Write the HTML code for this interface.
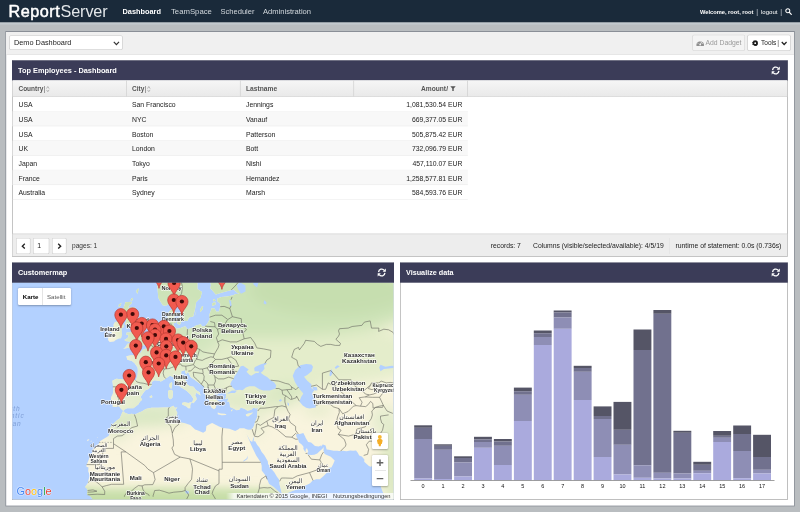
<!DOCTYPE html>
<html><head><meta charset="utf-8"><title>ReportServer</title>
<style>
html,body{margin:0;padding:0}
body{width:800px;height:512px;overflow:hidden;position:relative;background:#b9bdc0;font-family:"Liberation Sans",sans-serif}
.t{position:absolute;white-space:nowrap;display:block}
.b{position:absolute;display:block}
</style></head><body><div id="root" style="position:absolute;left:0;top:0;width:800px;height:512px;opacity:0.999">
<svg class="b" style="left:0px;top:0px" width="800" height="23"><rect x="0.00" y="0.00" width="800.00" height="22.50" fill="#1a2a3a" /></svg>
<span class="t" style="left:8.50px;top:2px;font-size:16.20px;line-height:18px;height:18px;color:#ffffff;letter-spacing:0.512px;-webkit-text-stroke:0.5px #fff;">Report</span>
<span class="t" style="left:60.60px;top:2px;font-size:16.20px;line-height:18px;height:18px;color:#e3e7ea;letter-spacing:-0.136px;">Server</span>
<span class="t" style="left:122.50px;top:7px;font-size:7.37px;line-height:9px;height:9px;color:#ffffff;font-weight:bold;">Dashboard</span>
<span class="t" style="left:171.00px;top:7px;font-size:7.76px;line-height:9px;height:9px;color:#d2d8dd;">TeamSpace</span>
<span class="t" style="left:220.50px;top:7px;font-size:7.55px;line-height:9px;height:9px;color:#d2d8dd;">Scheduler</span>
<span class="t" style="left:263.00px;top:7px;font-size:7.58px;line-height:9px;height:9px;color:#d2d8dd;">Administration</span>
<span class="t" style="left:700.00px;top:9px;font-size:5.71px;line-height:6px;height:6px;color:#ffffff;font-weight:bold;">Welcome, root, root</span>
<span class="t" style="left:756.30px;top:8px;font-size:7.00px;line-height:7px;height:7px;color:#c9d0d6;">|</span>
<span class="t" style="left:761.00px;top:9px;font-size:6.06px;line-height:6px;height:6px;color:#ffffff;">logout</span>
<span class="t" style="left:780.30px;top:8px;font-size:7.00px;line-height:7px;height:7px;color:#c9d0d6;">|</span>
<svg class="b" style="left:784.8px;top:8.2px" width="7" height="7" viewBox="0 0 8 8"><circle cx="3.2" cy="3.2" r="2.3" fill="none" stroke="#fff" stroke-width="1.15"/><path d="M4.9 4.9L7.2 7.2" stroke="#fff" stroke-width="1.35" stroke-linecap="round"/></svg>
<svg class="b" style="left:0px;top:22px" width="800" height="3"><rect x="0.00" y="0.50" width="800.00" height="2.00" fill="#c2c9ce" /></svg>
<svg class="b" style="left:5px;top:31px" width="790" height="476"><rect x="0.40" y="0.00" width="789.40" height="475.40" fill="#8a8f97" /></svg>
<svg class="b" style="left:6px;top:32px" width="788" height="474"><rect x="0.20" y="0.00" width="787.80" height="473.60" fill="#ffffff" /></svg>
<svg class="b" style="left:6px;top:32px" width="788" height="23"><rect x="0.20" y="0.00" width="787.80" height="22.60" fill="#f0f0f0" /></svg>
<svg class="b" style="left:6px;top:54px" width="788" height="1"><rect x="0.20" y="0.20" width="787.80" height="0.60" fill="#dddddd" /></svg>
<svg class="b" style="left:9px;top:35px" width="114" height="15"><rect x="0.20" y="0.40" width="113.40" height="14.40" fill="#c9c9c9" rx="1.5"/></svg>
<svg class="b" style="left:9px;top:36px" width="113" height="14"><rect x="0.80" y="0.00" width="112.20" height="13.20" fill="#ffffff" rx="1"/></svg>
<span class="t" style="left:14.00px;top:38px;font-size:7.34px;line-height:9px;height:9px;color:#222;">Demo Dashboard</span>
<svg class="b" style="left:112.8px;top:40.9px" width="7" height="5" viewBox="0 0 7 5"><path d="M0.8 0.9L3.4 3.6L6 0.9" fill="none" stroke="#333" stroke-width="1.2"/></svg>
<svg class="b" style="left:692px;top:34px" width="53" height="17"><rect x="0.40" y="0.70" width="52.60" height="16.10" fill="#d6d6d6" rx="1.5"/></svg>
<svg class="b" style="left:693px;top:35px" width="52" height="16"><rect x="0.00" y="0.30" width="51.40" height="14.90" fill="#f4f4f4" rx="1"/></svg>
<svg class="b" style="left:695.8px;top:39.8px" width="8.4" height="6.6" viewBox="0 0 16.8 13.2"><path d="M1.2 12.6A7.6 7.6 0 1 1 15.6 12.6Z" fill="#8f8f8f"/><circle cx="8.4" cy="9" r="1.8" fill="#f4f4f4"/><path d="M8.4 9L11.6 4" stroke="#f4f4f4" stroke-width="1.4"/><circle cx="4" cy="7" r="0.9" fill="#f4f4f4"/><circle cx="8.4" cy="3.6" r="0.9" fill="#f4f4f4"/><circle cx="12.8" cy="7" r="0.9" fill="#f4f4f4"/></svg>
<span class="t" style="left:705.50px;top:39px;font-size:6.82px;line-height:7px;height:7px;color:#999;">Add Dadget</span>
<svg class="b" style="left:747px;top:34px" width="44" height="17"><rect x="0.40" y="0.70" width="43.20" height="16.10" fill="#c8c8c8" rx="1.5"/></svg>
<svg class="b" style="left:748px;top:35px" width="42" height="16"><rect x="0.00" y="0.30" width="42.00" height="14.90" fill="#ffffff" rx="1"/></svg>
<svg class="b" style="left:751.6px;top:39.6px" width="6.4" height="6.4" viewBox="0 0 12.8 12.8"><circle cx="6.4" cy="6.4" r="3.6" fill="none" stroke="#1a1a1a" stroke-width="3.6"/><circle cx="6.4" cy="6.4" r="5.6" fill="none" stroke="#1a1a1a" stroke-width="1.4" stroke-dasharray="2.2 2.2"/></svg>
<span class="t" style="left:761.00px;top:39px;font-size:6.55px;line-height:7px;height:7px;color:#222;">Tools</span>
<span class="t" style="left:777.30px;top:39px;font-size:7.00px;line-height:7px;height:7px;color:#555;">|</span>
<svg class="b" style="left:780.7px;top:41.0px" width="6.5" height="5" viewBox="0 0 7 5"><path d="M0.8 0.9L3.4 3.6L6 0.9" fill="none" stroke="#222" stroke-width="1.3"/></svg>
<svg class="b" style="left:12px;top:60px" width="776" height="197"><rect x="0.00" y="0.30" width="775.80" height="196.30" fill="#9d9d9d" /></svg>
<svg class="b" style="left:12px;top:60px" width="776" height="196"><rect x="0.60" y="0.30" width="774.60" height="195.70" fill="#ffffff" /></svg>
<svg class="b" style="left:12px;top:60px" width="776" height="21"><rect x="0.00" y="0.30" width="775.80" height="20.20" fill="#3b3c58" /></svg>
<span class="t" style="left:18.00px;top:66px;font-size:7.36px;line-height:9px;height:9px;color:#ffffff;font-weight:bold;">Top Employees - Dashboard</span>
<svg class="b" style="left:771.1999999999999px;top:65.6px" width="9.5" height="9" viewBox="0 0 19 18"><path d="M3.2 8.2A6.4 6.4 0 0 1 14.6 4.6" fill="none" stroke="#fff" stroke-width="2.6"/><path d="M17.6 1.2V7.4H11.4Z" fill="#fff"/><path d="M15.8 9.8A6.4 6.4 0 0 1 4.4 13.4" fill="none" stroke="#fff" stroke-width="2.6"/><path d="M1.4 16.8V10.6H7.6Z" fill="#fff"/></svg>
<svg class="b" style="left:12px;top:80px" width="776" height="17"><defs><linearGradient id="tg" x1="0" y1="0" x2="0" y2="1"><stop offset="0" stop-color="#f6f6f6"/><stop offset="1" stop-color="#e9e9e9"/></linearGradient></defs><rect x="0.6" y="0.3" width="774.6" height="16.3" fill="url(#tg)"/><rect x="0.6" y="16.1" width="774.6" height="0.6" fill="#cfcfcf"/></svg>
<svg class="b" style="left:126px;top:80px" width="1" height="17"><rect x="0.10" y="0.30" width="0.80" height="16.30" fill="#d3d3d3" /></svg>
<svg class="b" style="left:239px;top:80px" width="2" height="17"><rect x="0.90" y="0.30" width="0.80" height="16.30" fill="#d3d3d3" /></svg>
<svg class="b" style="left:353px;top:80px" width="2" height="17"><rect x="0.30" y="0.30" width="0.80" height="16.30" fill="#d3d3d3" /></svg>
<svg class="b" style="left:467px;top:80px" width="1" height="17"><rect x="0.00" y="0.30" width="0.80" height="16.30" fill="#d3d3d3" /></svg>
<span class="t" style="left:18.50px;top:85px;font-size:6.47px;line-height:7px;height:7px;color:#555;font-weight:bold;">Country</span>
<span class="t" style="left:43.80px;top:85px;font-size:6.60px;line-height:7px;height:7px;color:#555;">|</span>
<span class="t" style="left:132.00px;top:85px;font-size:6.51px;line-height:7px;height:7px;color:#555;font-weight:bold;">City</span>
<span class="t" style="left:144.80px;top:85px;font-size:6.60px;line-height:7px;height:7px;color:#555;">|</span>
<svg class="b" style="left:46.3px;top:85.6px" width="3.6" height="6.2" viewBox="0 0 7 12"><path d="M1 5L3.5 1L6 5" fill="none" stroke="#888" stroke-width="1.1"/><path d="M1 7.5L3.5 11L6 7.5" fill="none" stroke="#888" stroke-width="1.1"/></svg>
<svg class="b" style="left:147.3px;top:85.6px" width="3.6" height="6.2" viewBox="0 0 7 12"><path d="M1 5L3.5 1L6 5" fill="none" stroke="#888" stroke-width="1.1"/><path d="M1 7.5L3.5 11L6 7.5" fill="none" stroke="#888" stroke-width="1.1"/></svg>
<span class="t" style="left:246.00px;top:85px;font-size:6.70px;line-height:7px;height:7px;color:#555;font-weight:bold;">Lastname</span>
<span class="t" style="left:421.00px;top:85px;font-size:6.62px;line-height:7px;height:7px;color:#555;font-weight:bold;">Amount</span>
<span class="t" style="left:446.30px;top:85px;font-size:6.80px;line-height:7px;height:7px;color:#555;font-weight:bold;">/</span>
<svg class="b" style="left:449.6px;top:86px" width="6" height="5.4" viewBox="0 0 11 10"><path d="M0.5 0.5H10.5L6.8 4.6V9.5H4.2V4.6Z" fill="#555"/></svg>
<svg class="b" style="left:12px;top:111px" width="456" height="1"><rect x="0.60" y="0.01" width="455.20" height="0.50" fill="#e8e8e8" /></svg>
<span class="t" style="left:18.50px;top:101px;font-size:6.84px;line-height:7px;height:7px;color:#222;">USA</span>
<span class="t" style="left:132.00px;top:101px;font-size:6.84px;line-height:7px;height:7px;color:#222;">San Francisco</span>
<span class="t" style="left:246.00px;top:101px;font-size:6.84px;line-height:7px;height:7px;color:#222;">Jennings</span>
<span class="t" style="left:406.22px;top:101px;font-size:6.84px;line-height:7px;height:7px;color:#222;">1,081,530.54 EUR</span>
<svg class="b" style="left:12px;top:111px" width="456" height="16"><rect x="0.60" y="0.51" width="455.20" height="14.71" fill="#f8f8f8" /></svg>
<svg class="b" style="left:12px;top:125px" width="456" height="2"><rect x="0.60" y="0.72" width="455.20" height="0.50" fill="#e8e8e8" /></svg>
<span class="t" style="left:18.50px;top:116px;font-size:6.84px;line-height:7px;height:7px;color:#222;">USA</span>
<span class="t" style="left:132.00px;top:116px;font-size:6.84px;line-height:7px;height:7px;color:#222;">NYC</span>
<span class="t" style="left:246.00px;top:116px;font-size:6.84px;line-height:7px;height:7px;color:#222;">Vanauf</span>
<span class="t" style="left:411.92px;top:116px;font-size:6.84px;line-height:7px;height:7px;color:#222;">669,377.05 EUR</span>
<svg class="b" style="left:12px;top:140px" width="456" height="1"><rect x="0.60" y="0.43" width="455.20" height="0.50" fill="#e8e8e8" /></svg>
<span class="t" style="left:18.50px;top:131px;font-size:6.84px;line-height:7px;height:7px;color:#222;">USA</span>
<span class="t" style="left:132.00px;top:131px;font-size:6.84px;line-height:7px;height:7px;color:#222;">Boston</span>
<span class="t" style="left:246.00px;top:131px;font-size:6.84px;line-height:7px;height:7px;color:#222;">Patterson</span>
<span class="t" style="left:411.92px;top:131px;font-size:6.84px;line-height:7px;height:7px;color:#222;">505,875.42 EUR</span>
<svg class="b" style="left:12px;top:140px" width="456" height="16"><rect x="0.60" y="0.93" width="455.20" height="14.71" fill="#f8f8f8" /></svg>
<svg class="b" style="left:12px;top:155px" width="456" height="1"><rect x="0.60" y="0.14" width="455.20" height="0.50" fill="#e8e8e8" /></svg>
<span class="t" style="left:18.50px;top:145px;font-size:6.84px;line-height:7px;height:7px;color:#222;">UK</span>
<span class="t" style="left:132.00px;top:145px;font-size:6.84px;line-height:7px;height:7px;color:#222;">London</span>
<span class="t" style="left:246.00px;top:145px;font-size:6.84px;line-height:7px;height:7px;color:#222;">Bott</span>
<span class="t" style="left:411.92px;top:145px;font-size:6.84px;line-height:7px;height:7px;color:#222;">732,096.79 EUR</span>
<svg class="b" style="left:12px;top:169px" width="456" height="2"><rect x="0.60" y="0.85" width="455.20" height="0.50" fill="#e8e8e8" /></svg>
<span class="t" style="left:18.50px;top:160px;font-size:6.84px;line-height:7px;height:7px;color:#222;">Japan</span>
<span class="t" style="left:132.00px;top:160px;font-size:6.84px;line-height:7px;height:7px;color:#222;">Tokyo</span>
<span class="t" style="left:246.00px;top:160px;font-size:6.84px;line-height:7px;height:7px;color:#222;">Nishi</span>
<span class="t" style="left:412.43px;top:160px;font-size:6.84px;line-height:7px;height:7px;color:#222;">457,110.07 EUR</span>
<svg class="b" style="left:12px;top:170px" width="456" height="16"><rect x="0.60" y="0.35" width="455.20" height="14.71" fill="#f8f8f8" /></svg>
<svg class="b" style="left:12px;top:184px" width="456" height="2"><rect x="0.60" y="0.56" width="455.20" height="0.50" fill="#e8e8e8" /></svg>
<span class="t" style="left:18.50px;top:175px;font-size:6.84px;line-height:7px;height:7px;color:#222;">France</span>
<span class="t" style="left:132.00px;top:175px;font-size:6.84px;line-height:7px;height:7px;color:#222;">Paris</span>
<span class="t" style="left:246.00px;top:175px;font-size:6.84px;line-height:7px;height:7px;color:#222;">Hernandez</span>
<span class="t" style="left:406.22px;top:175px;font-size:6.84px;line-height:7px;height:7px;color:#222;">1,258,577.81 EUR</span>
<svg class="b" style="left:12px;top:199px" width="456" height="1"><rect x="0.60" y="0.27" width="455.20" height="0.50" fill="#e8e8e8" /></svg>
<span class="t" style="left:18.50px;top:189px;font-size:6.84px;line-height:7px;height:7px;color:#222;">Australia</span>
<span class="t" style="left:132.00px;top:189px;font-size:6.84px;line-height:7px;height:7px;color:#222;">Sydney</span>
<span class="t" style="left:246.00px;top:189px;font-size:6.84px;line-height:7px;height:7px;color:#222;">Marsh</span>
<span class="t" style="left:411.92px;top:189px;font-size:6.84px;line-height:7px;height:7px;color:#222;">584,593.76 EUR</span>
<svg class="b" style="left:12px;top:233px" width="776" height="23"><rect x="0.60" y="0.80" width="774.60" height="22.20" fill="#ededed" /></svg>
<svg class="b" style="left:12px;top:233px" width="776" height="2"><rect x="0.60" y="0.60" width="774.60" height="0.60" fill="#cdcdcd" /></svg>
<svg class="b" style="left:16px;top:238px" width="15" height="16"><rect x="0.00" y="0.00" width="14.50" height="16.00" fill="#cfcfcf" rx="1.2"/></svg>
<svg class="b" style="left:16px;top:238px" width="14" height="16"><rect x="0.60" y="0.60" width="13.30" height="14.80" fill="#ffffff" rx="0.8"/></svg>
<svg class="b" style="left:33px;top:238px" width="17" height="16"><rect x="0.00" y="0.00" width="16.30" height="16.00" fill="#cfcfcf" rx="1.2"/></svg>
<svg class="b" style="left:33px;top:238px" width="16" height="16"><rect x="0.60" y="0.60" width="15.10" height="14.80" fill="#ffffff" rx="0.8"/></svg>
<svg class="b" style="left:52px;top:238px" width="15" height="16"><rect x="0.00" y="0.00" width="14.50" height="16.00" fill="#cfcfcf" rx="1.2"/></svg>
<svg class="b" style="left:52px;top:238px" width="14" height="16"><rect x="0.60" y="0.60" width="13.30" height="14.80" fill="#ffffff" rx="0.8"/></svg>
<svg class="b" style="left:21px;top:243px" width="5" height="6.4" viewBox="0 0 5 6.4"><path d="M3.8 0.8L1.3 3.2L3.8 5.6" fill="none" stroke="#222" stroke-width="1.3"/></svg>
<svg class="b" style="left:56.6px;top:243px" width="5" height="6.4" viewBox="0 0 5 6.4"><path d="M1.2 0.8L3.7 3.2L1.2 5.6" fill="none" stroke="#222" stroke-width="1.3"/></svg>
<span class="t" style="left:37.30px;top:242px;font-size:6.90px;line-height:7px;height:7px;color:#222;">1</span>
<span class="t" style="left:72.00px;top:242px;font-size:6.59px;line-height:7px;height:7px;color:#333;">pages: 1</span>
<span class="t" style="left:490.80px;top:242px;font-size:6.75px;line-height:7px;height:7px;color:#222;">records: 7</span>
<span class="t" style="left:533.00px;top:242px;font-size:6.81px;line-height:7px;height:7px;color:#222;">Columns (visible/selected/available): 4/5/19</span>
<span class="t" style="left:675.50px;top:242px;font-size:6.84px;line-height:7px;height:7px;color:#222;">runtime of statement: 0.0s (0.736s)</span>
<svg class="b" style="left:669px;top:238px" width="1" height="16"><rect x="0.30" y="0.00" width="0.50" height="16.00" fill="#dedede" /></svg>
<svg class="b" style="left:12px;top:262px" width="382" height="238"><rect x="0.00" y="0.50" width="382.00" height="237.30" fill="#9d9d9d" /></svg>
<svg class="b" style="left:12px;top:262px" width="382" height="238"><rect x="0.60" y="0.50" width="380.80" height="236.70" fill="#ffffff" /></svg>
<div class="b" style="left:12px;top:282px;width:382px;height:218px;clip-path:inset(0.5px 0.6px 0.8px 0.6px);background:#b3d1ff;overflow:hidden"><svg class="b" style="left:0;top:0" width="382" height="218" viewBox="0 0 382 218" font-family="Liberation Sans, sans-serif"><defs><filter id="bl" x="-30%" y="-30%" width="160%" height="160%"><feGaussianBlur stdDeviation="7"/></filter><filter id="bl2" x="-30%" y="-30%" width="160%" height="160%"><feGaussianBlur stdDeviation="3.5"/></filter><clipPath id="land"><path d="M145.7 -118.6L145.3 -1.8L145.3 2.9L145.7 8.8L146.3 15.8L147.6 18.3L150.8 23.2L153.7 23.8L157.0 22.0L160.5 18.3L163.1 15.8L163.7 12.0L164.7 16.4L166.0 22.0L167.9 25.6L169.6 30.3L170.2 33.8L171.2 38.9L175.4 38.9L177.0 35.5L181.2 34.4L183.1 26.8L184.1 20.2L188.6 15.8L189.9 10.1L185.4 6.9L185.4 0.2L187.3 -5.9L196.0 -14.4L201.2 -27.9L208.6 -28.6L210.9 -22.5L205.1 -15.1L198.9 -9.4L198.3 -1.8L198.9 3.6L198.3 6.2L200.6 8.8L203.8 12.4L210.2 10.4L217.7 8.5L221.6 7.5L225.1 10.8L227.4 11.7L223.8 12.0L221.2 13.3L215.1 14.6L209.3 14.9L205.4 16.4L205.4 19.2L208.3 21.7L208.2 25.0L207.0 29.5L204.4 29.7L202.5 26.5L199.6 26.2L198.5 29.7L197.3 32.7L197.7 37.2L195.4 41.5L193.1 44.2L189.9 44.5L188.9 42.3L184.1 43.4L180.9 45.6L175.7 47.2L173.1 44.2L168.6 45.9L164.7 46.7L162.4 44.5L161.5 42.3L160.8 38.4L162.4 35.0L164.7 32.7L162.8 29.7L163.7 25.6L157.3 29.2L155.7 32.7L155.7 37.8L157.3 41.2L157.6 45.0L158.2 47.2L156.0 49.4L152.4 48.6L152.1 50.7L148.9 49.9L144.8 52.0L144.0 55.2L142.4 57.8L140.8 60.4L138.9 61.4L135.6 62.4L134.3 66.4L130.1 67.9L128.9 70.9L125.3 68.9L123.4 68.9L124.3 74.1L119.8 73.1L114.3 74.3L115.3 77.7L119.8 79.1L122.4 81.0L125.6 85.6L125.9 88.4L125.6 92.9L124.0 98.2L119.8 98.2L111.7 97.6L104.3 96.7L100.4 98.7L100.9 103.0L101.4 107.7L100.8 112.0L99.1 115.3L99.0 118.2L101.1 119.4L100.6 124.8L104.0 125.0L106.9 124.2L109.2 127.0L111.4 129.0L112.7 127.4L115.3 126.2L121.4 126.2L126.3 122.6L127.9 119.8L130.1 117.7L128.5 114.9L131.8 110.3L133.4 108.2L136.6 106.9L139.8 103.0L139.5 100.0L142.4 98.2L146.9 98.7L148.9 99.6L152.4 97.4L157.0 94.3L158.2 93.8L162.1 95.6L163.4 100.0L165.7 102.6L169.2 105.6L173.1 107.7L175.4 109.4L178.6 112.4L181.5 116.9L180.0 120.2L181.5 121.2L184.7 117.3L184.1 114.9L183.1 113.2L184.4 110.7L188.6 113.6L187.6 110.3L184.1 108.2L181.5 104.8L177.9 104.3L175.0 102.2L173.1 97.4L170.2 95.6L169.2 93.4L169.2 89.3L173.4 87.9L173.4 90.7L174.4 92.0L176.0 89.7L178.6 95.1L182.5 97.8L188.0 101.7L192.2 104.8L192.5 107.3L192.2 110.7L194.1 114.0L196.4 116.9L197.7 119.8L198.0 122.6L199.6 125.8L202.2 127.2L203.8 125.8L204.1 123.4L203.8 121.4L207.0 122.2L207.0 119.8L203.8 117.3L203.5 115.7L202.5 112.8L203.5 110.3L205.4 112.8L206.4 109.9L208.3 109.0L213.5 109.4L214.1 112.4L213.8 114.9L215.7 115.7L216.1 118.2L214.8 119.4L217.0 119.4L217.7 121.4L218.0 125.0L220.9 126.2L224.5 128.2L227.4 127.8L228.7 125.4L232.9 127.0L235.4 128.8L239.3 127.8L241.3 125.8L244.2 126.6L245.8 125.4L245.5 129.0L245.1 131.0L245.1 135.3L244.2 137.2L242.9 140.6L241.9 144.0L240.6 146.3L238.7 147.8L236.1 147.8L233.8 147.1L232.2 146.3L227.7 146.3L226.1 147.4L223.2 148.9L217.4 146.7L210.9 145.9L207.0 144.4L200.2 141.0L198.9 141.4L194.4 144.0L193.8 148.9L191.2 150.8L186.0 148.5L183.1 147.4L178.3 142.9L172.1 141.0L167.3 140.3L163.4 138.0L162.1 137.2L164.4 134.1L165.4 131.0L163.7 127.4L165.4 125.4L162.8 125.8L161.5 123.8L157.6 125.4L154.7 125.4L151.8 125.4L146.0 125.8L139.5 125.8L133.7 127.0L129.8 129.4L127.6 130.2L123.0 132.5L119.8 131.8L116.6 132.2L112.4 130.6L112.1 129.4L110.4 129.8L109.5 132.2L107.5 136.8L105.0 138.3L99.8 143.3L97.8 146.3L98.2 150.4L96.6 154.1L87.8 159.2L86.2 162.4L82.7 166.0L78.1 174.4L74.6 182.7L74.3 184.5L76.5 185.5L76.2 189.2L77.8 193.6L76.2 199.0L76.2 200.6L73.0 204.9L75.2 206.9L75.6 208.9L75.2 212.5L79.1 214.8L90.7 236.4L269.4 236.4L269.0 215.1L269.4 212.2L267.4 210.5L261.6 204.9L257.1 201.9L255.1 197.3L253.9 193.9L249.7 188.5L249.7 183.8L248.7 180.3L244.2 173.4L240.9 166.7L238.7 162.1L237.7 159.2L234.6 152.2L236.7 155.9L238.0 158.5L240.1 160.1L240.9 157.4L242.4 153.7L241.6 159.2L243.2 159.2L245.1 162.8L247.4 165.6L249.7 169.9L252.2 173.1L255.8 179.3L256.1 182.1L259.7 187.2L262.3 190.2L264.8 194.6L267.1 197.6L267.4 201.9L268.1 204.6L269.4 209.5L270.0 211.7L274.9 211.2L279.7 209.2L285.5 207.2L288.1 205.6L294.2 203.3L298.1 201.3L300.7 198.6L304.2 197.3L307.8 197.3L311.3 194.3L314.6 190.9L315.9 188.2L316.8 185.8L319.4 185.5L321.0 182.4L322.7 178.6L318.8 174.8L312.6 172.0L311.5 168.8L311.7 165.1L310.2 167.1L308.1 168.8L305.2 171.6L302.3 172.7L299.4 173.1L296.2 172.7L295.2 171.3L296.2 169.9L296.0 168.8L294.9 166.0L293.6 167.8L293.7 170.6L292.3 168.5L291.3 166.7L291.6 164.9L290.0 162.8L287.1 160.6L286.2 157.7L284.9 155.5L284.2 154.1L284.5 152.2L286.2 151.9L287.8 151.9L291.3 151.1L293.3 154.8L293.7 155.9L296.2 159.9L299.1 160.6L303.0 163.9L306.8 164.4L311.0 162.4L313.6 163.5L314.6 167.4L316.8 167.8L321.7 168.8L325.2 168.8L328.5 169.2L330.7 168.8L334.6 169.2L338.2 168.5L341.1 168.8L344.0 168.5L345.6 170.6L347.2 173.4L349.8 174.4L352.4 177.6L352.2 179.7L356.9 184.1L358.8 184.8L362.7 182.7L363.7 179.7L364.3 183.4L364.6 190.6L366.3 197.3L367.9 202.3L371.1 210.8L373.4 214.8L375.0 236.4L436.4 236.4L436.4 -118.6ZM111.1 67.1L113.3 66.4L116.3 65.7L117.9 66.4L118.5 63.9L121.7 64.4L123.0 63.9L126.3 63.9L130.5 63.4L132.7 62.9L134.0 61.7L134.0 60.4L131.4 59.9L133.4 58.3L135.2 54.7L133.7 52.3L130.8 52.6L129.8 49.4L129.2 48.3L129.2 46.1L127.6 43.9L125.0 41.2L123.0 36.7L120.5 35.5L118.5 35.5L121.1 33.8L120.8 32.7L122.7 29.2L123.4 25.6L118.2 25.6L116.3 26.2L116.9 23.8L119.5 21.4L119.8 19.8L113.3 20.2L112.4 23.8L110.8 27.4L110.8 29.7L109.5 31.5L111.7 33.2L111.1 36.7L110.8 39.5L113.7 36.1L114.3 38.4L113.0 41.2L113.7 43.1L117.9 41.7L117.9 43.9L119.2 46.1L120.1 47.2L119.8 49.9L117.2 50.4L114.6 50.4L114.3 53.1L116.3 52.6L116.3 55.2L113.7 57.3L112.4 57.8L113.3 59.1L116.6 59.4L119.2 60.4L120.8 59.4L119.5 61.4L115.9 61.4L115.0 62.4L113.7 64.4L112.4 65.9ZM97.8 60.1L102.0 59.4L103.7 58.1L106.9 56.5L109.0 56.3L110.1 52.6L109.8 50.2L109.5 46.7L111.7 45.0L111.4 43.1L109.8 40.1L105.9 39.5L103.0 40.1L101.4 42.8L101.7 45.0L97.2 45.0L96.9 48.8L100.4 51.0L98.8 52.0L97.8 54.2L95.9 56.8L96.2 58.3ZM169.9 121.0L172.5 120.2L176.3 121.0L179.9 120.0L178.3 123.0L178.3 126.2L176.3 126.2L174.4 124.6L170.2 122.6ZM159.2 107.7L160.8 109.0L160.8 112.8L160.3 116.1L158.2 117.3L156.6 115.7L156.0 110.3L156.3 108.8ZM159.9 100.0L160.2 102.2L159.2 106.9L157.3 104.8L157.6 101.7ZM205.7 130.6L208.6 131.4L212.5 131.8L214.4 132.2L213.8 132.9L209.6 133.3L205.7 132.2ZM241.1 130.6L239.0 132.5L236.1 134.5L234.2 134.1L233.8 132.5L236.1 131.6ZM139.5 113.2L140.5 114.9L139.2 115.7L137.3 114.9ZM169.9 35.5L170.2 37.8L168.6 41.2L167.9 42.8L165.0 41.7L165.7 39.5L165.0 37.2L167.0 35.5ZM162.8 37.8L164.4 40.6L161.8 41.2L161.2 39.5ZM191.2 24.1L190.5 27.4L188.3 30.3L188.0 28.0L189.6 24.7ZM184.7 27.7L182.5 34.4L183.1 32.1ZM203.5 20.2L203.5 22.6L200.6 24.1L199.9 21.7L201.2 20.8ZM202.8 17.1L203.5 18.9L201.5 19.2L200.9 17.7ZM220.6 127.2L220.3 128.6L219.1 129.4L219.0 128.2ZM214.8 115.5L215.4 116.9L213.2 116.9L213.5 115.9ZM302.0 211.5L305.5 212.0L303.3 212.8L301.7 212.5ZM126.6 6.2L126.3 8.8L125.3 12.0L124.3 9.5L125.0 7.5ZM121.1 15.8L120.5 18.3L118.8 18.9L118.8 17.1ZM109.5 20.8L108.5 23.8L106.6 25.0L106.9 22.6ZM109.5 26.2L110.4 29.2L108.2 28.0ZM115.3 44.5L114.3 46.4L115.3 45.6ZM77.5 157.0L75.9 159.2L74.9 158.1ZM79.8 158.6L79.1 160.1L78.5 159.2ZM84.8 156.6L83.0 159.0L84.0 157.7ZM86.1 154.8L84.9 156.1L85.9 155.5ZM310.1 163.0L308.4 164.2L310.1 163.9Z"/></clipPath></defs><rect width="382" height="218" fill="#b3d1ff"/><g clip-path="url(#land)"><rect width="382" height="218" fill="#f9f4de"/><g filter="url(#bl)"><ellipse cx="288" cy="73" rx="130" ry="32" fill="#e4edcb" opacity="1"/><ellipse cx="153" cy="100" rx="62" ry="28" fill="#e2ecce" opacity="1"/><ellipse cx="243" cy="118" rx="42" ry="13" fill="#e0eac8" opacity="1"/><ellipse cx="248" cy="18" rx="170" ry="38" fill="#cde3b8" opacity="1"/><ellipse cx="158" cy="50" rx="52" ry="28" fill="#d2e5be" opacity="1"/><ellipse cx="318" cy="8" rx="80" ry="25" fill="#c6deaf" opacity="1"/><ellipse cx="278" cy="110" rx="22" ry="7" fill="#d5e6c0" opacity="1"/><ellipse cx="306" cy="128" rx="16" ry="5" fill="#e0eac8" opacity="1"/><ellipse cx="128" cy="136" rx="48" ry="8" fill="#d6e6c0" opacity="1"/><ellipse cx="106" cy="146" rx="11" ry="11" fill="#dde9c8" opacity="1"/><ellipse cx="168" cy="226" rx="160" ry="17" fill="#c9dfaa" opacity="1"/><ellipse cx="76" cy="221" rx="24" ry="14" fill="#c9dfaa" opacity="1"/><ellipse cx="250" cy="223" rx="30" ry="12" fill="#d6e5bb" opacity="1"/><ellipse cx="271" cy="206" rx="8" ry="8" fill="#e6edd2" opacity="1"/><ellipse cx="245" cy="143" rx="5" ry="12" fill="#e3ecce" opacity="1"/><ellipse cx="385" cy="183" rx="16" ry="45" fill="#dce8c2" opacity="1"/><ellipse cx="373" cy="138" rx="14" ry="14" fill="#e3ecce" opacity="1"/></g><g filter="url(#bl2)"><rect x="48" y="207" width="215" height="30" fill="#cfe3b3" opacity="0.9"/><rect x="48" y="213" width="200" height="30" fill="#c3dca3" opacity="0.9"/></g></g><path d="M223.5 108.4L227.4 107.7L230.6 108.2L233.8 105.6L237.4 104.3L242.6 104.3L247.4 107.3L251.3 108.6L257.7 108.6L263.5 106.5L264.2 103.5L262.3 100.4L258.7 98.2L255.1 95.1L251.6 92.9L248.7 90.7L250.6 89.3L252.6 86.6L251.9 83.8L255.1 81.4L253.2 81.0L248.4 82.4L243.5 84.7L242.2 86.1L242.6 89.3L247.4 89.5L246.4 91.1L243.8 91.1L241.3 92.5L239.3 93.8L237.7 92.9L234.5 89.7L236.7 87.5L234.5 86.1L231.2 83.8L228.7 84.2L227.4 86.6L225.4 90.2L222.2 94.7L221.9 96.5L219.6 99.1L218.3 102.2L219.9 104.8L222.5 107.3ZM223.2 108.6L224.5 109.6L222.8 111.1L219.0 111.1L215.4 111.7L215.7 110.9L217.7 109.9L219.9 108.6ZM294.2 81.9L288.4 83.3L283.2 87.9L280.7 93.8L282.9 100.0L285.5 104.3L288.1 107.7L291.3 111.5L289.1 114.9L287.4 119.4L290.7 123.4L294.2 125.8L297.5 126.6L303.9 125.4L303.6 123.0L303.6 117.3L301.7 114.9L300.4 112.8L300.7 110.3L302.3 108.6L299.4 106.0L299.4 102.2L295.5 99.1L292.0 94.7L295.2 92.9L299.7 89.3L301.0 84.7L299.4 82.4ZM300.7 104.5L304.9 105.2L305.5 108.2L303.0 108.6L300.7 106.9ZM325.2 83.3L327.8 84.2L323.9 87.0L322.7 85.6ZM319.7 87.0L320.7 91.1L318.8 94.3L317.5 93.8L317.8 90.2ZM368.5 82.8L373.4 84.7L379.8 83.8L384.7 84.2L381.4 86.1L371.8 87.0L368.5 89.3L367.2 85.6ZM227.7 0.2L233.5 3.6L233.5 9.5L229.0 11.7L226.1 7.5L224.8 3.6ZM242.6 -7.3L246.7 -0.4L245.1 5.6L241.3 2.3ZM216.7 17.7L219.0 18.9L219.6 23.8L218.3 24.7L217.4 20.8ZM252.2 18.3L254.5 20.2L254.2 22.6L251.6 21.4ZM268.7 117.1L270.0 118.6L268.1 119.8L266.8 118.6ZM275.5 120.2L277.1 121.8L276.8 124.2L275.5 122.6ZM173.8 208.2L177.0 209.5L176.7 211.8L174.4 211.5L173.1 209.9ZM235.8 173.4L235.4 176.9L231.2 179.7L231.6 178.6L234.5 176.5ZM172.8 15.8L174.7 18.3L170.5 21.4L169.9 18.9ZM177.3 19.5L176.3 22.6L175.4 25.0L176.3 21.4Z" fill="#b3d1ff"/></svg><svg class="b" style="left:0;top:0" width="382" height="218" viewBox="12 282 382 218" font-family="Liberation Sans, DejaVu Sans, sans-serif"><g transform="translate(12 282)"><path d="M100.8 104.8L103.0 104.8L108.2 105.2L107.2 108.6L106.9 112.8L105.3 114.0L106.9 116.9L106.6 120.2L105.6 124.2M123.7 98.5L125.0 100.0L128.5 100.9L131.8 101.3L135.0 102.2L139.7 102.4M153.7 96.5L152.1 94.7L151.1 91.1L152.1 87.0L149.2 84.7L151.1 81.9L153.9 79.3L154.7 74.3L156.0 72.4L151.5 71.4L149.8 69.9L148.2 69.9L145.0 67.4L142.7 65.9L139.2 63.4L137.7 61.9M140.5 60.6L143.4 60.4L146.3 61.2L147.9 63.7L148.9 63.7L148.9 58.3L152.1 56.3L152.8 50.7M148.9 63.7L149.8 65.9L149.8 69.9M157.4 41.7L159.9 42.3M175.5 47.2L175.2 53.1L177.0 56.8L177.9 62.4L168.9 65.9L172.8 72.4L174.1 74.3L171.5 76.2L171.5 79.1L165.0 79.6L160.5 79.3L157.3 79.1L153.9 79.3M152.1 87.0L157.0 86.6L159.5 85.6L163.1 84.2L163.3 82.6L160.3 81.4L160.5 79.3M163.3 82.6L168.6 81.9L169.9 83.8L173.8 84.2L177.9 83.5L181.5 82.6L183.1 78.6L184.7 77.2L184.1 73.8L177.9 73.3L174.1 74.3M173.8 84.2L174.1 88.4M181.5 82.6L183.1 84.7L187.6 87.0L190.5 87.0L195.1 85.9M183.1 84.7L178.9 88.8L176.3 89.1M190.5 87.0L191.2 91.1L190.9 91.6L181.2 90.2L181.8 94.7L185.4 97.8L188.9 101.7L189.3 102.2M190.9 91.6L192.2 94.3L191.8 97.8L189.3 102.2L192.2 105.0M191.8 97.8L195.1 100.9L196.0 103.0L196.0 104.8L196.4 109.0L194.1 114.0M196.0 103.0L201.9 103.0M196.0 104.8L197.3 109.0L200.6 108.2L203.6 107.1M177.9 62.4L182.1 65.4L187.6 67.4L190.9 69.9L195.7 70.9L202.5 71.9L206.1 65.9L207.0 62.9L205.7 59.9L204.4 55.7L206.7 52.0L205.4 47.2L203.1 44.8L193.1 44.2M187.6 67.4L186.0 72.8L184.7 77.2L190.2 78.4L193.5 76.7L198.9 74.8L201.2 75.3M203.1 44.8L202.5 40.6L198.3 39.5M205.4 47.2L212.2 45.0L213.5 41.2L215.4 37.8L220.4 34.7M197.5 35.2L203.5 33.2L209.9 33.2L215.4 37.2M208.2 24.7L212.2 24.4L217.8 26.5L220.4 34.7M217.8 26.5L219.0 23.8M219.0 17.7L220.1 14.9M220.4 34.7L229.3 36.7L229.6 42.3L234.5 47.8L230.9 51.0L232.2 56.8L224.8 59.9L218.3 59.9L210.2 57.8L205.7 59.9M232.2 56.8L238.7 55.5L242.6 60.9L244.8 65.9L251.6 66.9L259.0 68.4L258.4 75.7L254.8 78.1L252.9 81.4M202.5 71.9L201.2 75.3L203.5 77.4L209.9 77.4L215.4 76.0L219.0 74.8L223.8 78.1L226.7 84.2L223.0 84.7L220.6 89.1L225.3 89.7M215.4 76.0L218.6 80.5L220.6 84.2L220.6 89.1M203.5 77.4L198.9 82.4L195.1 85.9L198.6 91.1L202.5 93.4L202.8 94.7L206.4 96.9L211.9 96.9L216.7 95.1L221.7 96.7M202.8 94.7L203.5 99.1L201.9 103.0L203.6 107.1L208.6 106.9L211.2 107.5L214.6 105.6L217.4 104.3L219.9 104.3M214.6 105.6L213.6 109.6M166.0 17.7L169.6 11.4L170.5 4.9L168.9 -1.8L168.6 -12.3M219.3 7.9L224.1 2.9L230.6 -5.2M245.8 129.0L248.0 126.2L252.2 126.2L258.7 125.4L263.5 124.6L266.3 124.6L270.0 123.8L274.2 125.0L272.9 119.8L272.9 115.3L274.2 114.0L270.7 112.4L270.0 108.2L266.8 106.5L263.7 106.5M258.7 98.2L266.8 99.1L273.2 101.3L277.1 102.2L279.4 104.8L283.9 107.7L286.5 105.0M279.4 104.8L280.0 107.3L274.9 107.7L270.0 108.2M274.9 107.7L277.8 112.0L279.7 114.9L279.7 117.3L284.2 115.7L284.5 114.0L287.4 119.2M274.2 114.0L278.4 117.3L279.7 117.3M266.3 124.6L262.9 127.4L261.9 135.3L254.8 139.1L248.4 143.3L245.1 141.8M254.8 139.1L256.1 143.7L249.0 146.3L252.2 150.0L250.6 151.9L246.1 154.8L242.4 154.3M244.5 141.8L244.2 146.3L242.6 153.7M240.1 147.1L242.2 153.7M242.9 140.3L245.1 139.5L247.1 134.3L245.8 134.3M256.1 143.7L260.0 144.8L265.5 147.8L273.9 154.8L279.7 155.2L283.6 151.5L284.5 152.1M279.7 155.2L283.6 157.2L285.8 157.2M274.2 125.0L276.1 129.4L278.1 132.5L276.5 136.8L278.4 140.6L283.6 144.4L283.6 148.2L286.2 151.9M267.7 199.3L269.4 196.0L273.2 196.0L280.7 196.3L285.2 193.9L297.5 190.6L307.1 187.2L309.2 180.3L307.8 177.9L299.4 177.2L296.2 172.9M297.5 190.6L301.0 198.5M307.8 177.9L309.7 172.7L311.5 170.1M293.6 171.5L295.4 171.3M303.6 123.6L311.3 120.6L318.5 122.6L321.7 125.0L327.0 126.6L327.3 130.6L325.6 134.9L324.9 138.0L326.0 146.3L329.1 148.2L326.2 152.4L332.3 157.4L334.0 162.1L333.5 164.2L328.5 169.2M326.2 152.4L336.5 154.1L343.6 152.2L344.9 147.1L353.3 144.8L356.6 140.3L359.2 136.8L360.4 132.9L359.8 129.0L363.7 125.4L370.5 125.4M327.0 126.6L330.7 131.8L336.2 129.4L341.4 124.2L344.3 123.6L348.5 124.2L353.7 124.6L356.2 122.6L358.5 119.4L360.8 121.4L361.1 126.2L367.2 124.2L371.4 123.4M344.3 123.6L336.9 117.3L335.3 115.3L326.5 107.7L323.6 107.3L323.3 103.5L318.5 102.2L316.2 100.9L313.6 107.3L310.4 107.3L304.6 103.0L299.1 104.3M310.4 107.3L310.4 91.1L318.8 88.6L326.9 97.8L339.1 97.8L343.0 104.3L349.1 107.7L351.1 109.4L358.5 103.0L359.5 100.9L366.9 100.9L369.2 99.1L374.3 100.9L378.9 100.4L388.5 103.0M358.7 103.2L356.2 106.5L360.1 107.7L363.0 106.5L365.3 110.3L361.7 112.0L357.2 113.0L353.3 114.9L347.2 115.7L350.1 120.2L348.5 124.2M351.1 109.4L353.3 112.0L357.2 112.8M353.3 114.9L360.4 115.3L367.6 115.3L371.4 123.4M367.6 115.3L371.1 110.7L377.9 108.6L388.5 104.3M370.5 125.4L371.4 123.4L375.0 129.0L380.8 131.4M351.7 173.4L355.6 172.3L356.6 167.4L354.3 162.8L357.2 159.2L361.7 159.2L365.3 155.5L368.2 151.9L370.5 148.2L371.8 142.5L369.8 141.0L368.5 136.8L368.5 134.1L376.6 132.9M288.4 85.6L286.2 83.8L284.9 78.1L279.7 75.3L281.0 70.9L282.3 67.4L286.5 65.4L287.4 67.9L292.3 61.4L293.6 58.3L302.3 59.4L305.5 62.4L308.8 64.4L314.3 62.4L318.8 62.4L323.3 63.4L327.8 63.4L328.5 61.4L323.9 57.3L326.5 54.2L327.5 52.0L326.5 48.8L327.5 46.7L336.2 46.1L340.1 44.5L349.8 43.4L352.4 40.1L358.2 38.9L359.5 46.1L366.9 46.1L366.6 49.4L371.8 47.2L376.6 47.8L381.1 50.4L388.2 63.4M122.4 132.5L124.0 136.8L125.6 144.0L119.8 145.6L115.3 149.7L110.1 153.7L105.3 154.1L101.5 156.6L101.5 161.7L113.9 169.9L132.7 183.4L136.0 187.2L141.5 190.6L168.2 175.1M101.5 161.7L101.5 166.4L90.7 166.4L90.7 175.3L87.5 176.9L87.5 182.6L74.6 182.6M113.9 169.9L109.2 169.9L111.7 202.3L99.5 202.3L94.3 203.6L90.1 204.8L87.8 202.6L84.6 200.0L81.4 198.6L77.8 199.0L76.2 200.5M90.1 204.8L92.7 209.2L92.7 212.5M75.6 208.5L81.0 207.9L84.9 209.2L81.0 209.9L75.6 210.2M92.7 212.5L85.2 212.2L75.6 212.8M210.7 145.9L209.9 154.8L210.2 180.3L248.7 180.3M210.2 180.3L210.2 187.2L207.0 187.2L207.0 188.9L177.9 176.9L168.2 175.1L162.6 172.3L159.9 166.0L161.5 163.9L161.3 158.1L160.3 152.2L160.3 151.0M160.3 151.0L162.8 145.6L166.6 142.5L166.8 140.0M160.3 151.0L158.6 144.0L154.4 140.3L154.0 136.0L156.3 134.1L156.3 127.0L157.4 125.2M177.9 176.9L179.9 183.8L180.5 187.2L179.6 197.3L176.0 201.6L173.1 205.6L173.1 208.5L169.9 209.5L161.8 210.2L157.0 211.2L152.1 209.5L147.3 208.2L142.7 208.5L141.1 213.8L141.1 214.8M207.0 188.9L207.0 201.6L203.5 203.9L200.9 208.9L200.2 211.5L203.5 217.0M141.5 190.6L143.1 197.6L140.8 202.6L132.7 202.8L130.1 203.9L130.8 207.2L132.7 210.5L136.6 212.5L137.3 214.1M130.1 203.9L126.3 203.6L122.7 206.2L118.5 209.9L115.6 209.5L112.4 213.8L112.4 214.8M173.1 208.5L175.0 210.2L176.7 213.1L174.7 217.0M255.1 197.3L253.9 193.9L249.0 197.3L247.4 203.6L247.4 206.2L245.8 211.5L242.6 217.0M247.4 206.2L251.9 205.6L255.5 205.9L258.7 205.6L262.6 208.9L266.5 211.5L268.7 212.2M266.5 211.5L264.5 217.0" fill="none" stroke="#66665f" stroke-width="0.7" stroke-linejoin="round" opacity="0.85"/><path d="M86.9 160.4L101.5 160.4" fill="none" stroke="#8a8a80" stroke-width="0.6" stroke-dasharray="1.6 1.2"/></g><text x="20.6" y="410.7" text-anchor="end" font-size="6.6" font-style="italic" letter-spacing="0.9" fill="#7d9dd6">North</text><text x="24.6" y="418.2" text-anchor="end" font-size="6.6" font-style="italic" letter-spacing="0.9" fill="#7d9dd6">Atlantic</text><text x="21.6" y="425.7" text-anchor="end" font-size="6.6" font-style="italic" letter-spacing="0.9" fill="#7d9dd6">Ocean</text><text x="110" y="331.4" text-anchor="middle" font-size="5.9" fill="#2e2e2e" stroke="#ffffff" stroke-width="1.4" stroke-opacity="0.8" stroke-linejoin="round" paint-order="stroke" font-weight="bold" >Ireland</text><text x="110" y="337.1" text-anchor="middle" font-size="5.9" fill="#2e2e2e" stroke="#ffffff" stroke-width="1.4" stroke-opacity="0.8" stroke-linejoin="round" paint-order="stroke" font-weight="bold" >Éire</text><text x="202" y="332.2" text-anchor="middle" font-size="6.1" fill="#2e2e2e" stroke="#ffffff" stroke-width="1.4" stroke-opacity="0.8" stroke-linejoin="round" paint-order="stroke" font-weight="bold" >Polska</text><text x="202" y="338.2" text-anchor="middle" font-size="6.1" fill="#2e2e2e" stroke="#ffffff" stroke-width="1.4" stroke-opacity="0.8" stroke-linejoin="round" paint-order="stroke" font-weight="bold" >Poland</text><text x="232.5" y="327.2" text-anchor="middle" font-size="6.1" fill="#2e2e2e" stroke="#ffffff" stroke-width="1.4" stroke-opacity="0.8" stroke-linejoin="round" paint-order="stroke" font-weight="bold" >Беларусь</text><text x="232.5" y="333.0" text-anchor="middle" font-size="6.1" fill="#2e2e2e" stroke="#ffffff" stroke-width="1.4" stroke-opacity="0.8" stroke-linejoin="round" paint-order="stroke" font-weight="bold" >Belarus</text><text x="242.5" y="349.2" text-anchor="middle" font-size="6.1" fill="#2e2e2e" stroke="#ffffff" stroke-width="1.4" stroke-opacity="0.8" stroke-linejoin="round" paint-order="stroke" font-weight="bold" >Україна</text><text x="242.5" y="355.2" text-anchor="middle" font-size="6.1" fill="#2e2e2e" stroke="#ffffff" stroke-width="1.4" stroke-opacity="0.8" stroke-linejoin="round" paint-order="stroke" font-weight="bold" >Ukraine</text><text x="222" y="368.0" text-anchor="middle" font-size="6.1" fill="#2e2e2e" stroke="#ffffff" stroke-width="1.4" stroke-opacity="0.8" stroke-linejoin="round" paint-order="stroke" font-weight="bold" >România</text><text x="222" y="373.7" text-anchor="middle" font-size="6.1" fill="#2e2e2e" stroke="#ffffff" stroke-width="1.4" stroke-opacity="0.8" stroke-linejoin="round" paint-order="stroke" font-weight="bold" >Romania</text><text x="214.5" y="393.0" text-anchor="middle" font-size="6.1" fill="#2e2e2e" stroke="#ffffff" stroke-width="1.4" stroke-opacity="0.8" stroke-linejoin="round" paint-order="stroke" font-weight="bold" >Ελλάδα</text><text x="214.5" y="399.0" text-anchor="middle" font-size="6.1" fill="#2e2e2e" stroke="#ffffff" stroke-width="1.4" stroke-opacity="0.8" stroke-linejoin="round" paint-order="stroke" font-weight="bold" >Hellas</text><text x="214.5" y="404.7" text-anchor="middle" font-size="6.1" fill="#2e2e2e" stroke="#ffffff" stroke-width="1.4" stroke-opacity="0.8" stroke-linejoin="round" paint-order="stroke" font-weight="bold" >Greece</text><text x="255.5" y="398.0" text-anchor="middle" font-size="6.1" fill="#2e2e2e" stroke="#ffffff" stroke-width="1.4" stroke-opacity="0.8" stroke-linejoin="round" paint-order="stroke" font-weight="bold" >Türkiye</text><text x="255.5" y="404.2" text-anchor="middle" font-size="6.1" fill="#2e2e2e" stroke="#ffffff" stroke-width="1.4" stroke-opacity="0.8" stroke-linejoin="round" paint-order="stroke" font-weight="bold" >Turkey</text><text x="359.3" y="356.5" text-anchor="middle" font-size="6.2" fill="#2e2e2e" stroke="#ffffff" stroke-width="1.4" stroke-opacity="0.8" stroke-linejoin="round" paint-order="stroke" font-weight="bold" >Казахстан</text><text x="359.3" y="362.5" text-anchor="middle" font-size="6.2" fill="#2e2e2e" stroke="#ffffff" stroke-width="1.4" stroke-opacity="0.8" stroke-linejoin="round" paint-order="stroke" font-weight="bold" >Kazakhstan</text><text x="348.3" y="384.7" text-anchor="middle" font-size="6.1" fill="#2e2e2e" stroke="#ffffff" stroke-width="1.4" stroke-opacity="0.8" stroke-linejoin="round" paint-order="stroke" font-weight="bold" >Oʻzbekiston</text><text x="348.3" y="391.0" text-anchor="middle" font-size="6.1" fill="#2e2e2e" stroke="#ffffff" stroke-width="1.4" stroke-opacity="0.8" stroke-linejoin="round" paint-order="stroke" font-weight="bold" >Uzbekistan</text><text x="332.5" y="398.0" text-anchor="middle" font-size="6.1" fill="#2e2e2e" stroke="#ffffff" stroke-width="1.4" stroke-opacity="0.8" stroke-linejoin="round" paint-order="stroke" font-weight="bold" >Turkmenistan</text><text x="332.5" y="404.2" text-anchor="middle" font-size="6.1" fill="#2e2e2e" stroke="#ffffff" stroke-width="1.4" stroke-opacity="0.8" stroke-linejoin="round" paint-order="stroke" font-weight="bold" >Turkmenistan</text><text x="180.5" y="379.2" text-anchor="middle" font-size="6.1" fill="#2e2e2e" stroke="#ffffff" stroke-width="1.4" stroke-opacity="0.8" stroke-linejoin="round" paint-order="stroke" font-weight="bold" >Italia</text><text x="180.5" y="385.2" text-anchor="middle" font-size="6.1" fill="#2e2e2e" stroke="#ffffff" stroke-width="1.4" stroke-opacity="0.8" stroke-linejoin="round" paint-order="stroke" font-weight="bold" >Italy</text><text x="131" y="389.2" text-anchor="middle" font-size="6.1" fill="#2e2e2e" stroke="#ffffff" stroke-width="1.4" stroke-opacity="0.8" stroke-linejoin="round" paint-order="stroke" font-weight="bold" >España</text><text x="131" y="394.7" text-anchor="middle" font-size="6.1" fill="#2e2e2e" stroke="#ffffff" stroke-width="1.4" stroke-opacity="0.8" stroke-linejoin="round" paint-order="stroke" font-weight="bold" >Spain</text><text x="113" y="404.1" text-anchor="middle" font-size="5.9" fill="#2e2e2e" stroke="#ffffff" stroke-width="1.4" stroke-opacity="0.8" stroke-linejoin="round" paint-order="stroke" font-weight="bold" >Portugal</text><text x="120.8" y="425.8" text-anchor="middle" font-size="6.22" fill="#333" stroke="#ffffff" stroke-width="1.1" stroke-opacity="0.75" stroke-linejoin="round" paint-order="stroke">المغرب</text><text x="120.8" y="432.5" text-anchor="middle" font-size="6.1" fill="#2e2e2e" stroke="#ffffff" stroke-width="1.4" stroke-opacity="0.8" stroke-linejoin="round" paint-order="stroke" font-weight="bold" >Morocco</text><text x="150" y="439.6" text-anchor="middle" font-size="6.22" fill="#333" stroke="#ffffff" stroke-width="1.1" stroke-opacity="0.75" stroke-linejoin="round" paint-order="stroke">الجزائر</text><text x="150" y="446.2" text-anchor="middle" font-size="6.1" fill="#2e2e2e" stroke="#ffffff" stroke-width="1.4" stroke-opacity="0.8" stroke-linejoin="round" paint-order="stroke" font-weight="bold" >Algeria</text><text x="198" y="444.6" text-anchor="middle" font-size="6.22" fill="#333" stroke="#ffffff" stroke-width="1.1" stroke-opacity="0.75" stroke-linejoin="round" paint-order="stroke">ليبيا</text><text x="198" y="450.7" text-anchor="middle" font-size="6.1" fill="#2e2e2e" stroke="#ffffff" stroke-width="1.4" stroke-opacity="0.8" stroke-linejoin="round" paint-order="stroke" font-weight="bold" >Libya</text><text x="236.8" y="443.8" text-anchor="middle" font-size="6.22" fill="#333" stroke="#ffffff" stroke-width="1.1" stroke-opacity="0.75" stroke-linejoin="round" paint-order="stroke">مصر</text><text x="236.8" y="450.0" text-anchor="middle" font-size="6.1" fill="#2e2e2e" stroke="#ffffff" stroke-width="1.4" stroke-opacity="0.8" stroke-linejoin="round" paint-order="stroke" font-weight="bold" >Egypt</text><text x="280.5" y="420.8" text-anchor="middle" font-size="6.22" fill="#333" stroke="#ffffff" stroke-width="1.1" stroke-opacity="0.75" stroke-linejoin="round" paint-order="stroke">العراق</text><text x="280.5" y="427.5" text-anchor="middle" font-size="6.1" fill="#2e2e2e" stroke="#ffffff" stroke-width="1.4" stroke-opacity="0.8" stroke-linejoin="round" paint-order="stroke" font-weight="bold" >Iraq</text><text x="317" y="425.3" text-anchor="middle" font-size="6.22" fill="#333" stroke="#ffffff" stroke-width="1.1" stroke-opacity="0.75" stroke-linejoin="round" paint-order="stroke">ایران</text><text x="317" y="431.7" text-anchor="middle" font-size="6.1" fill="#2e2e2e" stroke="#ffffff" stroke-width="1.4" stroke-opacity="0.8" stroke-linejoin="round" paint-order="stroke" font-weight="bold" >Iran</text><text x="351.8" y="419.1" text-anchor="middle" font-size="6.22" fill="#333" stroke="#ffffff" stroke-width="1.1" stroke-opacity="0.75" stroke-linejoin="round" paint-order="stroke">افغانستان</text><text x="351.8" y="425.0" text-anchor="middle" font-size="6.1" fill="#2e2e2e" stroke="#ffffff" stroke-width="1.4" stroke-opacity="0.8" stroke-linejoin="round" paint-order="stroke" font-weight="bold" >Afghanistan</text><text x="366" y="432.8" text-anchor="middle" font-size="6.22" fill="#333" stroke="#ffffff" stroke-width="1.1" stroke-opacity="0.75" stroke-linejoin="round" paint-order="stroke">پاکستان</text><text x="366" y="439.2" text-anchor="middle" font-size="6.1" fill="#2e2e2e" stroke="#ffffff" stroke-width="1.4" stroke-opacity="0.8" stroke-linejoin="round" paint-order="stroke" font-weight="bold" >Pakistan</text><text x="288" y="450.3" text-anchor="middle" font-size="6.22" fill="#333" stroke="#ffffff" stroke-width="1.1" stroke-opacity="0.75" stroke-linejoin="round" paint-order="stroke">المملكة</text><text x="288" y="455.8" text-anchor="middle" font-size="6.22" fill="#333" stroke="#ffffff" stroke-width="1.1" stroke-opacity="0.75" stroke-linejoin="round" paint-order="stroke">العربية</text><text x="288" y="461.6" text-anchor="middle" font-size="6.22" fill="#333" stroke="#ffffff" stroke-width="1.1" stroke-opacity="0.75" stroke-linejoin="round" paint-order="stroke">السعودية</text><text x="288" y="468.2" text-anchor="middle" font-size="6.1" fill="#2e2e2e" stroke="#ffffff" stroke-width="1.4" stroke-opacity="0.8" stroke-linejoin="round" paint-order="stroke" font-weight="bold" >Saudi Arabia</text><text x="239.5" y="481.3" text-anchor="middle" font-size="6.22" fill="#333" stroke="#ffffff" stroke-width="1.1" stroke-opacity="0.75" stroke-linejoin="round" paint-order="stroke">السودان</text><text x="239.5" y="488.0" text-anchor="middle" font-size="6.1" fill="#2e2e2e" stroke="#ffffff" stroke-width="1.4" stroke-opacity="0.8" stroke-linejoin="round" paint-order="stroke" font-weight="bold" >Sudan</text><text x="295.5" y="483.3" text-anchor="middle" font-size="6.22" fill="#333" stroke="#ffffff" stroke-width="1.1" stroke-opacity="0.75" stroke-linejoin="round" paint-order="stroke">اليمن</text><text x="295.5" y="489.2" text-anchor="middle" font-size="6.1" fill="#2e2e2e" stroke="#ffffff" stroke-width="1.4" stroke-opacity="0.8" stroke-linejoin="round" paint-order="stroke" font-weight="bold" >Yemen</text><text x="202" y="481.8" text-anchor="middle" font-size="6.22" fill="#333" stroke="#ffffff" stroke-width="1.1" stroke-opacity="0.75" stroke-linejoin="round" paint-order="stroke">تشاد</text><text x="202" y="488.7" text-anchor="middle" font-size="6.1" fill="#2e2e2e" stroke="#ffffff" stroke-width="1.4" stroke-opacity="0.8" stroke-linejoin="round" paint-order="stroke" font-weight="bold" >Tchad</text><text x="202" y="494.2" text-anchor="middle" font-size="6.1" fill="#2e2e2e" stroke="#ffffff" stroke-width="1.4" stroke-opacity="0.8" stroke-linejoin="round" paint-order="stroke" font-weight="bold" >Chad</text><text x="105" y="468.8" text-anchor="middle" font-size="6.22" fill="#333" stroke="#ffffff" stroke-width="1.1" stroke-opacity="0.75" stroke-linejoin="round" paint-order="stroke">موريتانيا</text><text x="105" y="475.5" text-anchor="middle" font-size="6.1" fill="#2e2e2e" stroke="#ffffff" stroke-width="1.4" stroke-opacity="0.8" stroke-linejoin="round" paint-order="stroke" font-weight="bold" >Mauritanie</text><text x="105" y="481.2" text-anchor="middle" font-size="6.1" fill="#2e2e2e" stroke="#ffffff" stroke-width="1.4" stroke-opacity="0.8" stroke-linejoin="round" paint-order="stroke" font-weight="bold" >Mauritania</text><text x="135.8" y="480.0" text-anchor="middle" font-size="6.1" fill="#2e2e2e" stroke="#ffffff" stroke-width="1.4" stroke-opacity="0.8" stroke-linejoin="round" paint-order="stroke" font-weight="bold" >Mali</text><text x="172" y="481.2" text-anchor="middle" font-size="6.1" fill="#2e2e2e" stroke="#ffffff" stroke-width="1.4" stroke-opacity="0.8" stroke-linejoin="round" paint-order="stroke" font-weight="bold" >Niger</text><text x="170.2" y="339.7" text-anchor="middle" font-size="6.1" fill="#2e2e2e" stroke="#ffffff" stroke-width="1.4" stroke-opacity="0.8" stroke-linejoin="round" paint-order="stroke" font-weight="bold" >Deutschland</text><text x="170.2" y="345.7" text-anchor="middle" font-size="6.1" fill="#2e2e2e" stroke="#ffffff" stroke-width="1.4" stroke-opacity="0.8" stroke-linejoin="round" paint-order="stroke" font-weight="bold" >Germany</text><text x="150" y="364.2" text-anchor="middle" font-size="6.1" fill="#2e2e2e" stroke="#ffffff" stroke-width="1.4" stroke-opacity="0.8" stroke-linejoin="round" paint-order="stroke" font-weight="bold" >France</text><text x="139.5" y="321.7" text-anchor="middle" font-size="6.0" fill="#2e2e2e" stroke="#ffffff" stroke-width="1.4" stroke-opacity="0.8" stroke-linejoin="round" paint-order="stroke" font-weight="bold" >United</text><text x="139.5" y="327.7" text-anchor="middle" font-size="6.0" fill="#2e2e2e" stroke="#ffffff" stroke-width="1.4" stroke-opacity="0.8" stroke-linejoin="round" paint-order="stroke" font-weight="bold" >Kingdom</text><text x="173" y="315.6" text-anchor="middle" font-size="5.1" fill="#2e2e2e" stroke="#ffffff" stroke-width="1.4" stroke-opacity="0.8" stroke-linejoin="round" paint-order="stroke" font-weight="bold" >Danmark</text><text x="173" y="320.6" text-anchor="middle" font-size="5.1" fill="#2e2e2e" stroke="#ffffff" stroke-width="1.4" stroke-opacity="0.8" stroke-linejoin="round" paint-order="stroke" font-weight="bold" >Denmark</text><text x="171.5" y="289.5" text-anchor="middle" font-size="5.6" fill="#2e2e2e" stroke="#ffffff" stroke-width="1.4" stroke-opacity="0.8" stroke-linejoin="round" paint-order="stroke" font-weight="bold" >Norway</text><text x="172.5" y="418.4" text-anchor="middle" font-size="4.69" fill="#333" stroke="#ffffff" stroke-width="1.1" stroke-opacity="0.75" stroke-linejoin="round" paint-order="stroke">تونس</text><text x="172.5" y="423.0" text-anchor="middle" font-size="4.6" fill="#2e2e2e" stroke="#ffffff" stroke-width="1.4" stroke-opacity="0.8" stroke-linejoin="round" paint-order="stroke" font-weight="bold" >Tunisia</text><text x="98.8" y="446.8" text-anchor="middle" font-size="5.10" fill="#333" stroke="#ffffff" stroke-width="1.1" stroke-opacity="0.75" stroke-linejoin="round" paint-order="stroke">الصحراء</text><text x="98.8" y="452.3" text-anchor="middle" font-size="5.10" fill="#333" stroke="#ffffff" stroke-width="1.1" stroke-opacity="0.75" stroke-linejoin="round" paint-order="stroke">الغربية</text><text x="98.8" y="457.8" text-anchor="middle" font-size="5.0" fill="#2e2e2e" stroke="#ffffff" stroke-width="1.4" stroke-opacity="0.8" stroke-linejoin="round" paint-order="stroke" font-weight="bold" >Western</text><text x="98.8" y="462.6" text-anchor="middle" font-size="5.0" fill="#2e2e2e" stroke="#ffffff" stroke-width="1.4" stroke-opacity="0.8" stroke-linejoin="round" paint-order="stroke" font-weight="bold" >Sahara</text><text x="323.3" y="467.4" text-anchor="middle" font-size="4.90" fill="#333" stroke="#ffffff" stroke-width="1.1" stroke-opacity="0.75" stroke-linejoin="round" paint-order="stroke">عمان</text><text x="323.3" y="472.2" text-anchor="middle" font-size="4.8" fill="#2e2e2e" stroke="#ffffff" stroke-width="1.4" stroke-opacity="0.8" stroke-linejoin="round" paint-order="stroke" font-weight="bold" >Oman</text><text x="135.8" y="495.0" text-anchor="middle" font-size="4.8" fill="#2e2e2e" stroke="#ffffff" stroke-width="1.4" stroke-opacity="0.8" stroke-linejoin="round" paint-order="stroke" font-weight="bold" >Burkina</text><text x="135.8" y="499.5" text-anchor="middle" font-size="4.8" fill="#2e2e2e" stroke="#ffffff" stroke-width="1.4" stroke-opacity="0.8" stroke-linejoin="round" paint-order="stroke" font-weight="bold" >Faso</text><text x="387" y="386.7" text-anchor="middle" font-size="4.8" fill="#2e2e2e" stroke="#ffffff" stroke-width="1.4" stroke-opacity="0.8" stroke-linejoin="round" paint-order="stroke" font-weight="bold" >Кыргызстан</text><text x="387" y="391.7" text-anchor="middle" font-size="4.8" fill="#2e2e2e" stroke="#ffffff" stroke-width="1.4" stroke-opacity="0.8" stroke-linejoin="round" paint-order="stroke" font-weight="bold" >Kyrgyzstan</text><text x="184.5" y="356.8" text-anchor="middle" font-size="4.9" fill="#2e2e2e" stroke="#ffffff" stroke-width="1.4" stroke-opacity="0.8" stroke-linejoin="round" paint-order="stroke" font-weight="bold" >Österreich</text><text x="184.5" y="362.3" text-anchor="middle" font-size="4.9" fill="#2e2e2e" stroke="#ffffff" stroke-width="1.4" stroke-opacity="0.8" stroke-linejoin="round" paint-order="stroke" font-weight="bold" >Austria</text><defs><g id="pin"><path d="M0 13.4C-0.9 7.6-6.1 5.2-6.1 0A6.1 6.1 0 1 1 6.1 0C6.1 5.2 0.9 7.6 0 13.4Z" fill="#f15a4f" stroke="#b93a31" stroke-width="0.7"/><circle r="2.1" fill="#3d0907"/></g></defs><use href="#pin" x="159" y="275"/><use href="#pin" x="221.9" y="276"/><use href="#pin" x="174.1" y="283"/><use href="#pin" x="173.8" y="300"/><use href="#pin" x="181.9" y="301.5"/><use href="#pin" x="132.6" y="314"/><use href="#pin" x="120.9" y="314.7"/><use href="#pin" x="141.7" y="323.5"/><use href="#pin" x="152.5" y="325"/><use href="#pin" x="163.8" y="326.4"/><use href="#pin" x="136.8" y="328"/><use href="#pin" x="155" y="329.5"/><use href="#pin" x="169.4" y="331"/><use href="#pin" x="155" y="335"/><use href="#pin" x="148" y="337.8"/><use href="#pin" x="166" y="338.9"/><use href="#pin" x="178" y="340"/><use href="#pin" x="183.2" y="342.6"/><use href="#pin" x="135.8" y="345.6"/><use href="#pin" x="191.2" y="346.3"/><use href="#pin" x="166.3" y="346.3"/><use href="#pin" x="156.6" y="352.4"/><use href="#pin" x="166.2" y="355.4"/><use href="#pin" x="175.5" y="356.9"/><use href="#pin" x="145.8" y="362.2"/><use href="#pin" x="158.7" y="363.5"/><use href="#pin" x="148.5" y="372.4"/><use href="#pin" x="129.2" y="375.5"/><use href="#pin" x="121.4" y="389.8"/></svg><div class="b" style="left:6.00px;top:6.30px;width:52.50px;height:16.70px;background:#fff;border-radius:1.2px;box-shadow:0 0.5px 2px rgba(0,0,0,0.3);"></div><div class="b" style="left:30.299999999999997px;top:6.300000000000011px;width:0.5px;height:16.7px;background:#e4e4e4"></div><span class="t" style="left:10.80px;top:11.00px;font-size:6.1px;line-height:7px;height:7px;color:#000;font-weight:bold;">Karte</span><span class="t" style="left:35.00px;top:11.00px;font-size:6.15px;line-height:7px;height:7px;color:#565656;">Satellit</span><div class="b" style="left:360.00px;top:150.80px;width:16.00px;height:16.20px;background:#fff;border-radius:1.2px;box-shadow:0 0.5px 2px rgba(0,0,0,0.3);"><svg class="b" style="left:4.2px;top:2.4px" width="7.6" height="11.4" viewBox="0 0 15.2 22.8"><circle cx="7.6" cy="4" r="3.9" fill="#f7b733"/><path d="M7.6 8.2c3.4 0 5.6 1.4 5.6 3.4l-1.6 6.2h-1.5l-0.7 4.6h-3.6l-0.7-4.6h-1.5l-1.6-6.2c0-2 2.2-3.4 5.6-3.4z" fill="#f5ae26"/></svg></div><div class="b" style="left:360.00px;top:172.80px;width:16.00px;height:31.20px;background:#fff;border-radius:1.2px;box-shadow:0 0.5px 2px rgba(0,0,0,0.3);"><div class="b" style="left:2.5px;top:15.4px;width:11px;height:0.6px;background:#e6e6e6"></div><svg class="b" style="left:0;top:0" width="16" height="31.2"><path d="M4.7 7.7h6.6M8 4.4v6.6M4.7 23.6h6.6" stroke="#636363" stroke-width="1.45" fill="none"/></svg></div><div class="b" style="left:214px;top:210.8px;width:167.5px;height:7px;background:linear-gradient(90deg,rgba(255,255,255,0) 0,rgba(255,255,255,0.78) 8px,rgba(255,255,255,0.78) 100%)"></div><span class="t" style="left:224.50px;top:211.00px;font-size:5.75px;line-height:6px;height:6px;color:#333;">Kartendaten © 2015 Google, INEGI</span><span class="t" style="left:321.00px;top:211.00px;font-size:5.75px;line-height:6px;height:6px;color:#333;">Nutzungsbedingungen</span><span class="t" style="left:4.50px;top:203.00px;font-size:10.9px;line-height:12px;height:12px;color:#000;text-shadow:0 0 1px #fff,0 0 1px #fff,0 0 1.5px #fff;"><span style="color:#4285f4">G</span><span style="color:#ea4335">o</span><span style="color:#fbbc05">o</span><span style="color:#4285f4">g</span><span style="color:#34a853">l</span><span style="color:#ea4335">e</span></span></div>
<svg class="b" style="left:12px;top:262px" width="382" height="21"><rect x="0.00" y="0.50" width="382.00" height="20.20" fill="#3b3c58" /></svg>
<span class="t" style="left:18.00px;top:268px;font-size:7.33px;line-height:9px;height:9px;color:#ffffff;font-weight:bold;">Customermap</span>
<svg class="b" style="left:377.4px;top:267.8px" width="9.5" height="9" viewBox="0 0 19 18"><path d="M3.2 8.2A6.4 6.4 0 0 1 14.6 4.6" fill="none" stroke="#fff" stroke-width="2.6"/><path d="M17.6 1.2V7.4H11.4Z" fill="#fff"/><path d="M15.8 9.8A6.4 6.4 0 0 1 4.4 13.4" fill="none" stroke="#fff" stroke-width="2.6"/><path d="M1.4 16.8V10.6H7.6Z" fill="#fff"/></svg>
<svg class="b" style="left:400px;top:262px" width="388" height="238"><rect x="0.00" y="0.50" width="387.80" height="237.30" fill="#9d9d9d" /></svg>
<svg class="b" style="left:400px;top:262px" width="388" height="238"><rect x="0.60" y="0.50" width="386.60" height="236.70" fill="#ffffff" /></svg>
<svg class="b" style="left:400px;top:262px" width="388" height="21"><rect x="0.00" y="0.50" width="387.80" height="20.20" fill="#3b3c58" /></svg>
<span class="t" style="left:406.00px;top:268px;font-size:7.23px;line-height:9px;height:9px;color:#ffffff;font-weight:bold;">Visualize data</span>
<svg class="b" style="left:771.1999999999999px;top:267.8px" width="9.5" height="9" viewBox="0 0 19 18"><path d="M3.2 8.2A6.4 6.4 0 0 1 14.6 4.6" fill="none" stroke="#fff" stroke-width="2.6"/><path d="M17.6 1.2V7.4H11.4Z" fill="#fff"/><path d="M15.8 9.8A6.4 6.4 0 0 1 4.4 13.4" fill="none" stroke="#fff" stroke-width="2.6"/><path d="M1.4 16.8V10.6H7.6Z" fill="#fff"/></svg>
<svg class="b" style="left:400px;top:283px" width="387" height="216" viewBox="400 283 387 216"><rect x="414.2" y="425.3" width="17.9" height="2.5" fill="#555566"/><rect x="414.2" y="427.8" width="17.9" height="11.2" fill="#71718e"/><rect x="414.2" y="439.0" width="17.9" height="39.5" fill="#8e8eb5"/><rect x="414.2" y="478.5" width="17.9" height="1.7" fill="#aaaadd"/><text x="423.1" y="488" text-anchor="middle" font-size="5.5" fill="#111" font-family="Liberation Sans, sans-serif">0</text><rect x="434.1" y="444.3" width="17.9" height="1.5" fill="#555566"/><rect x="434.1" y="445.8" width="17.9" height="4.0" fill="#71718e"/><rect x="434.1" y="449.8" width="17.9" height="29.2" fill="#8e8eb5"/><rect x="434.1" y="479.0" width="17.9" height="1.2" fill="#aaaadd"/><text x="443.1" y="488" text-anchor="middle" font-size="5.5" fill="#111" font-family="Liberation Sans, sans-serif">1</text><rect x="454.1" y="456.3" width="17.9" height="1.7" fill="#555566"/><rect x="454.1" y="458.0" width="17.9" height="4.5" fill="#71718e"/><rect x="454.1" y="462.5" width="17.9" height="14.0" fill="#8e8eb5"/><rect x="454.1" y="476.5" width="17.9" height="3.7" fill="#aaaadd"/><text x="463.0" y="488" text-anchor="middle" font-size="5.5" fill="#111" font-family="Liberation Sans, sans-serif">2</text><rect x="474.0" y="436.8" width="17.9" height="2.7" fill="#555566"/><rect x="474.0" y="439.5" width="17.9" height="2.5" fill="#71718e"/><rect x="474.0" y="442.0" width="17.9" height="5.8" fill="#8e8eb5"/><rect x="474.0" y="447.8" width="17.9" height="32.4" fill="#aaaadd"/><text x="483.0" y="488" text-anchor="middle" font-size="5.5" fill="#111" font-family="Liberation Sans, sans-serif">3</text><rect x="493.9" y="439.0" width="17.9" height="2.5" fill="#555566"/><rect x="493.9" y="441.5" width="17.9" height="4.3" fill="#71718e"/><rect x="493.9" y="445.8" width="17.9" height="19.2" fill="#8e8eb5"/><rect x="493.9" y="465.0" width="17.9" height="15.2" fill="#aaaadd"/><text x="502.9" y="488" text-anchor="middle" font-size="5.5" fill="#111" font-family="Liberation Sans, sans-serif">4</text><rect x="513.9" y="387.6" width="17.9" height="3.6" fill="#555566"/><rect x="513.9" y="391.2" width="17.9" height="3.6" fill="#71718e"/><rect x="513.9" y="394.8" width="17.9" height="26.2" fill="#8e8eb5"/><rect x="513.9" y="421.0" width="17.9" height="59.2" fill="#aaaadd"/><text x="522.8" y="488" text-anchor="middle" font-size="5.5" fill="#111" font-family="Liberation Sans, sans-serif">5</text><rect x="533.8" y="330.5" width="17.9" height="2.7" fill="#555566"/><rect x="533.8" y="333.2" width="17.9" height="3.8" fill="#71718e"/><rect x="533.8" y="337.0" width="17.9" height="8.0" fill="#8e8eb5"/><rect x="533.8" y="345.0" width="17.9" height="135.2" fill="#aaaadd"/><text x="542.8" y="488" text-anchor="middle" font-size="5.5" fill="#111" font-family="Liberation Sans, sans-serif">6</text><rect x="553.7" y="310.5" width="17.9" height="2.0" fill="#555566"/><rect x="553.7" y="312.5" width="17.9" height="5.0" fill="#71718e"/><rect x="553.7" y="317.5" width="17.9" height="11.3" fill="#8e8eb5"/><rect x="553.7" y="328.8" width="17.9" height="151.4" fill="#aaaadd"/><text x="562.7" y="488" text-anchor="middle" font-size="5.5" fill="#111" font-family="Liberation Sans, sans-serif">7</text><rect x="573.7" y="365.8" width="17.9" height="2.2" fill="#555566"/><rect x="573.7" y="368.0" width="17.9" height="3.8" fill="#71718e"/><rect x="573.7" y="371.8" width="17.9" height="28.2" fill="#8e8eb5"/><rect x="573.7" y="400.0" width="17.9" height="80.2" fill="#aaaadd"/><text x="582.6" y="488" text-anchor="middle" font-size="5.5" fill="#111" font-family="Liberation Sans, sans-serif">8</text><rect x="593.6" y="406.4" width="17.9" height="9.6" fill="#555566"/><rect x="593.6" y="416.0" width="17.9" height="3.0" fill="#71718e"/><rect x="593.6" y="419.0" width="17.9" height="38.0" fill="#8e8eb5"/><rect x="593.6" y="457.0" width="17.9" height="23.2" fill="#aaaadd"/><text x="602.6" y="488" text-anchor="middle" font-size="5.5" fill="#111" font-family="Liberation Sans, sans-serif">9</text><rect x="613.5" y="401.9" width="17.9" height="27.9" fill="#555566"/><rect x="613.5" y="429.8" width="17.9" height="15.0" fill="#71718e"/><rect x="613.5" y="444.8" width="17.9" height="29.7" fill="#8e8eb5"/><rect x="613.5" y="474.5" width="17.9" height="5.7" fill="#aaaadd"/><text x="622.5" y="488" text-anchor="middle" font-size="5.5" fill="#111" font-family="Liberation Sans, sans-serif">10</text><rect x="633.5" y="329.5" width="17.9" height="20.5" fill="#555566"/><rect x="633.5" y="350.0" width="17.9" height="115.3" fill="#71718e"/><rect x="633.5" y="465.3" width="17.9" height="12.5" fill="#8e8eb5"/><rect x="633.5" y="477.8" width="17.9" height="2.4" fill="#aaaadd"/><text x="642.4" y="488" text-anchor="middle" font-size="5.5" fill="#111" font-family="Liberation Sans, sans-serif">11</text><rect x="653.4" y="310.0" width="17.9" height="3.8" fill="#555566"/><rect x="653.4" y="313.8" width="17.9" height="159.0" fill="#71718e"/><rect x="653.4" y="472.8" width="17.9" height="5.7" fill="#8e8eb5"/><rect x="653.4" y="478.5" width="17.9" height="1.7" fill="#aaaadd"/><text x="662.4" y="488" text-anchor="middle" font-size="5.5" fill="#111" font-family="Liberation Sans, sans-serif">12</text><rect x="673.4" y="430.8" width="17.9" height="2.0" fill="#555566"/><rect x="673.4" y="432.8" width="17.9" height="40.7" fill="#71718e"/><rect x="673.4" y="473.5" width="17.9" height="5.0" fill="#8e8eb5"/><rect x="673.4" y="478.5" width="17.9" height="1.7" fill="#aaaadd"/><text x="682.3" y="488" text-anchor="middle" font-size="5.5" fill="#111" font-family="Liberation Sans, sans-serif">13</text><rect x="693.3" y="461.8" width="17.9" height="3.0" fill="#555566"/><rect x="693.3" y="464.8" width="17.9" height="6.0" fill="#71718e"/><rect x="693.3" y="470.8" width="17.9" height="2.5" fill="#8e8eb5"/><rect x="693.3" y="473.3" width="17.9" height="6.9" fill="#aaaadd"/><text x="702.2" y="488" text-anchor="middle" font-size="5.5" fill="#111" font-family="Liberation Sans, sans-serif">14</text><rect x="713.2" y="431.0" width="17.9" height="4.8" fill="#555566"/><rect x="713.2" y="435.8" width="17.9" height="2.0" fill="#71718e"/><rect x="713.2" y="437.8" width="17.9" height="4.2" fill="#8e8eb5"/><rect x="713.2" y="442.0" width="17.9" height="38.2" fill="#aaaadd"/><text x="722.2" y="488" text-anchor="middle" font-size="5.5" fill="#111" font-family="Liberation Sans, sans-serif">15</text><rect x="733.2" y="425.5" width="17.9" height="8.5" fill="#555566"/><rect x="733.2" y="434.0" width="17.9" height="17.0" fill="#71718e"/><rect x="733.2" y="451.0" width="17.9" height="27.2" fill="#8e8eb5"/><rect x="733.2" y="478.2" width="17.9" height="2.0" fill="#aaaadd"/><text x="742.1" y="488" text-anchor="middle" font-size="5.5" fill="#111" font-family="Liberation Sans, sans-serif">16</text><rect x="753.1" y="434.8" width="17.9" height="22.2" fill="#555566"/><rect x="753.1" y="457.0" width="17.9" height="12.8" fill="#71718e"/><rect x="753.1" y="469.8" width="17.9" height="3.7" fill="#8e8eb5"/><rect x="753.1" y="473.5" width="17.9" height="6.7" fill="#aaaadd"/><text x="762.0" y="488" text-anchor="middle" font-size="5.5" fill="#111" font-family="Liberation Sans, sans-serif">17</text><rect x="410.5" y="480" width="364" height="0.7" fill="#777"/></svg>
</div></body></html>
